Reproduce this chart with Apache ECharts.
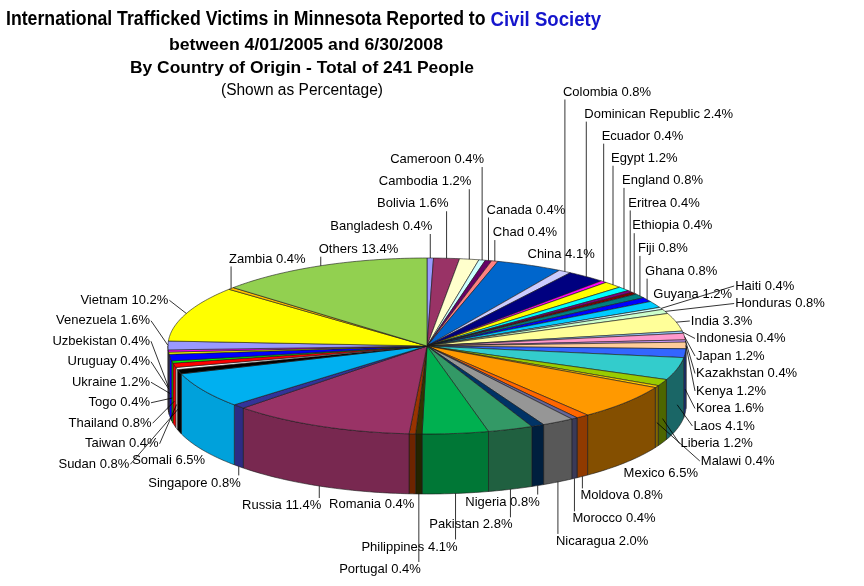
<!DOCTYPE html>
<html><head><meta charset="utf-8">
<script src="https://cdn.jsdelivr.net/npm/echarts@6/dist/echarts.min.js"></script>
<style>html,body{margin:0;padding:0;background:#fff}#c{width:864px;height:586px}</style>
</head><body><div id="c"></div>
<script>
const countries = ['Bangladesh','Bolivia','Cambodia','Cameroon','Canada','Chad','China','Colombia','Dominican Republic','Ecuador','Egypt','England','Eritrea','Ethiopia','Fiji','Ghana','Guyana','Haiti','Honduras','India','Indonesia','Japan','Kazakhstan','Kenya','Korea','Laos','Liberia','Malawi','Mexico','Moldova','Morocco','Nicaragua','Nigeria','Pakistan','Philippines','Portugal','Romania','Russia','Singapore','Somali','Sudan','Taiwan','Thailand','Togo','Ukraine','Uruguay','Uzbekistan','Venezuela','Vietnam','Zambia','Others'];
const percents = [0.4,1.6,1.2,0.4,0.4,0.4,4.1,0.8,2.4,0.4,1.2,0.8,0.4,0.4,0.8,0.8,1.2,0.4,0.8,3.3,0.4,1.2,0.4,1.2,1.6,4.1,1.2,0.4,6.5,0.8,0.4,2.0,0.8,2.8,4.1,0.4,0.4,11.4,0.8,6.5,0.8,0.4,0.8,0.4,1.2,0.4,0.4,1.6,10.2,0.4,13.4];
const colors = ['#9999FF','#993366','#FFFFCC','#CCFFFF','#660066','#FF8080','#0066CC','#CCCCFF','#000080','#FF00FF','#FFFF00','#00FFFF','#800080','#800000','#008080','#0000FF','#00CCFF','#CCFFFF','#CCFFCC','#FFFF99','#99CCFF','#FF99CC','#CC99FF','#FFCC99','#3366FF','#33CCCC','#99CC00','#FFCC00','#FF9900','#FF6600','#666699','#969696','#003366','#339966','#00B050','#333300','#993300','#993366','#333399','#00B0F0','#000000','#FFFFFF','#FF0000','#00FF00','#0000FF','#FFFF00','#FF00FF','#9999FF','#FFFF00','#FFC000','#92D050'];
const titleParts = ['International Trafficked Victims in Minnesota Reported to ', 'Civil Society'];
const titleLine2 = 'between 4/01/2005 and 6/30/2008';
const titleLine3 = 'By Country of Origin - Total of 241 People';
const titleLine4 = '(Shown as Percentage)';

// ---- geometry of the 3D pie ----
const G = {cx:427, cy:346, rx:259, ry:88, depth:60};
const total = percents.reduce((a,b)=>a+b,0);
const a0=[], a1=[];
let acc=0;
percents.forEach(v=>{ a0.push(acc/total*2*Math.PI); acc+=v; a1.push(acc/total*2*Math.PI); });
function P(t,dz){ return [G.cx+G.rx*Math.sin(t), G.cy-G.ry*Math.cos(t)+(dz||0)]; }
function arc(s,e,dz){ const n=Math.max(2,Math.ceil((e-s)/(Math.PI/180))); const pts=[]; for(let k=0;k<=n;k++) pts.push(P(s+(e-s)*k/n,dz)); return pts; }
function shade(hex,f){ const n=parseInt(hex.slice(1),16); const r=Math.round(((n>>16)&255)*f), g=Math.round(((n>>8)&255)*f), b=Math.round((n&255)*f); return 'rgb('+r+','+g+','+b+')'; }

// ---- label layout ----
const FONT = '13px "Liberation Sans", Arial, sans-serif';
const cv = document.createElement('canvas').getContext('2d');
function tw(font,text){ cv.font=font; return cv.measureText(text).width; }
const H=15, PADX=2, PADY=7;
const labels = countries.map((name,i)=>{
  const m=(a0[i]+a1[i])/2, s=Math.sin(m), c=Math.cos(m);
  const text = name+' '+percents[i].toFixed(1)+'%';
  const column = Math.abs(s)>0.885, front=c<0;
  const anchor = column ? P(m, front?G.depth*0.6:0) : P(m, front?G.depth:0);
  return {i,m,s,c,deg:m*180/Math.PI,text,w:tw(FONT,text),column,front,anchor};
});
const placed=[];
function overlap(a,b){ return a.x0<b.x1+PADX && b.x0<a.x1+PADX && a.y0<b.y1+PADY && b.y0<a.y1+PADY; }
function hitsPie(b){
  const xs=[]; for(let x=b.x0;x<b.x1;x+=3) xs.push(x); xs.push(b.x1);
  for(const x of xs){ const u=(x-G.cx)/G.rx; if(Math.abs(u)>=1) continue; const h=G.ry*Math.sqrt(1-u*u);
    if(b.y1>G.cy-h-1 && b.y0<G.cy+G.depth+h+1) return true; }
  return false;
}
function placeCluster(L){
  let x0 = L.align==='left' ? L.anchor[0]-2 : L.anchor[0]+2-L.w;
  let y0 = L.front ? L.anchor[1]+3 : L.anchor[1]-3-H;
  const dir = L.front?1:-1; let b;
  for(let k=0;k<600;k++){ b={x0,x1:x0+L.w,y0,y1:y0+H}; if(!hitsPie(b)&&!placed.some(p=>overlap(p,b))) break; y0+=dir; }
  L.box=b; placed.push(b);
}
const cl = labels.filter(L=>!L.column);
cl.forEach(L=>{ if(!L.front) L.align=(L.deg<13||L.deg>345)?'right':'left'; else L.align=L.deg<150?'left':'right'; });
const wrapDeg=L=>L.deg<180?L.deg+360:L.deg;
const g1=cl.filter(L=>!L.front&&L.deg>=13&&L.deg<180).sort((a,b)=>b.m-a.m);
const g2=cl.filter(L=>!L.front&&!(L.deg>=13&&L.deg<180)).sort((a,b)=>wrapDeg(a)-wrapDeg(b));
const g3=cl.filter(L=>L.front&&L.deg<180).sort((a,b)=>a.m-b.m);
const g4=cl.filter(L=>L.front&&L.deg>=180).sort((a,b)=>b.m-a.m);
[...g1,...g2,...g3,...g4].forEach(placeCluster);

function spread(arr,S){
  const blocks=[];
  arr.forEach((L,i)=>{ blocks.push({idx:[i],sum:L.yd-i*S});
    while(blocks.length>1){ const b=blocks[blocks.length-1], a=blocks[blocks.length-2];
      if(a.sum/a.idx.length>b.sum/b.idx.length){ a.idx.push(...b.idx); a.sum+=b.sum; blocks.pop(); } else break; } });
  blocks.forEach(b=>{ const mean=b.sum/b.idx.length; b.idx.forEach(i=>{ arr[i].yc=mean+i*S; }); });
}
function edgeHalf(y0,y1){ let best=0; for(let y=y0;y<=y1;y+=1){ let h; if(y>=G.cy&&y<=G.cy+G.depth) h=1; else { const d=y<G.cy?(G.cy-y)/G.ry:(y-G.cy-G.depth)/G.ry; h=d>=1?0:Math.sqrt(1-d*d);} best=Math.max(best,h);} return best*G.rx; }
function overlapCol(a,b){ return a.x0<b.x1+PADX && b.x0<a.x1+PADX && a.y0<b.y1+1 && b.y0<a.y1+1; }
['R','L'].forEach(side=>{
  const arr=labels.filter(L=>L.column&&(side==='R'?L.s>0:L.s<0));
  arr.forEach(L=>L.yd=L.anchor[1]+(side==='R'?16:0)); arr.sort((a,b)=>a.yd-b.yd); spread(arr,side==='R'?17.5:20.5);
  arr.forEach(L=>{
    const y0=L.yc-H/2, y1=y0+H, e=edgeHalf(y0,y1); let b;
    if(side==='R'){ let x0=Math.max(L.anchor[0],G.cx+e)+10; for(let k=0;k<400;k++){ b={x0,x1:x0+L.w,y0,y1}; if(!placed.some(p=>overlapCol(p,b))) break; x0+=2; } L.align='left'; }
    else { let x1=Math.min(L.anchor[0],G.cx-e)-18; for(let k=0;k<400;k++){ b={x0:x1-L.w,x1,y0,y1}; if(!placed.some(p=>overlapCol(p,b))) break; x1-=2; } L.align='right'; }
    L.box=b; placed.push(b);
  });
});
labels.forEach(L=>{
  const b=L.box, ax=L.anchor[0], ay=L.anchor[1];
  let tx,ty;
  if(L.column){ tx=L.align==='left'?b.x0-1:b.x1+1; ty=(b.y0+b.y1)/2; }
  else { tx=Math.min(Math.max(ax,b.x0),b.x1); ty=L.front?b.y0:b.y1; }
  L.lead=[ax,ay,tx,ty];
});

// ---- title ----
const F1='bold 20px "Liberation Sans", Arial, sans-serif', F1b='bold 21px "Liberation Sans", Arial, sans-serif';
const F2='bold 17px "Liberation Sans", Arial, sans-serif', F4='16px "Liberation Sans", Arial, sans-serif';
const wA=tw(F1,titleParts[0]), wB=tw(F1b,titleParts[1]);
const s1=595/(wA+wB), s2=274/tw(F2,titleLine2), s3=344/tw(F2,titleLine3), s4=162/tw(F4,titleLine4);

const chart=echarts.init(document.getElementById('c'),null,{renderer:'canvas'});
chart.setOption({
  animation:false,
  backgroundColor:'#fff',
  graphic:[
    {type:'group',x:6,y:29,scaleX:s1,children:[
      {type:'text',x:0,y:0,style:{text:titleParts[0],font:F1,fill:'#000',align:'left',verticalAlign:'bottom'}},
      {type:'text',x:wA,y:2,style:{text:titleParts[1],font:F1b,fill:'#1515CC',align:'left',verticalAlign:'bottom'}}
    ]},
    {type:'text',x:306,y:45,scaleX:s2,style:{text:titleLine2,font:F2,fill:'#000',align:'center',verticalAlign:'middle'}},
    {type:'text',x:302,y:68,scaleX:s3,style:{text:titleLine3,font:F2,fill:'#000',align:'center',verticalAlign:'middle'}},
    {type:'text',x:302,y:91,scaleX:s4,style:{text:titleLine4,font:F4,fill:'#000',align:'center',verticalAlign:'middle'}}
  ],
  series:[{
    type:'custom',
    coordinateSystem:'none',
    data:percents.map((v,i)=>({name:countries[i],value:[v]})),
    renderItem:function(params,api){
      const i=params.dataIndex, col=colors[i];
      const ch=[];
      ch.push({type:'polygon',shape:{points:[[G.cx,G.cy]].concat(arc(a0[i],a1[i],0))},style:{fill:col,stroke:'#1a1a1a',lineWidth:0.6,lineJoin:'round'},z2:100});
      const s=Math.max(a0[i],Math.PI/2), e=Math.min(a1[i],1.5*Math.PI);
      if(e>s){ const t=arc(s,e,0), bt=arc(s,e,G.depth).reverse(); const mm=(s+e)/2*180/Math.PI; const f=0.5+0.45*Math.min(1,Math.max(0,(mm-125)/125));
        ch.push({type:'polygon',shape:{points:t.concat(bt)},style:{fill:shade(col,f),stroke:'#1a1a1a',lineWidth:0.6},z2:10}); }
      const L=labels[i], b=L.box, ld=L.lead;
      if(Math.hypot(ld[2]-ld[0],ld[3]-ld[1])>4) ch.push({type:'line',shape:{x1:ld[0],y1:ld[1],x2:ld[2],y2:ld[3]},style:{stroke:'#000',lineWidth:0.8},z2:200});
      ch.push({type:'text',x:L.align==='left'?b.x0:b.x1,y:(b.y0+b.y1)/2,style:{text:L.text,font:FONT,fill:'#000',align:L.align,verticalAlign:'middle'},z2:300});
      return {type:'group',children:ch};
    }
  }]
});
</script></body></html>
